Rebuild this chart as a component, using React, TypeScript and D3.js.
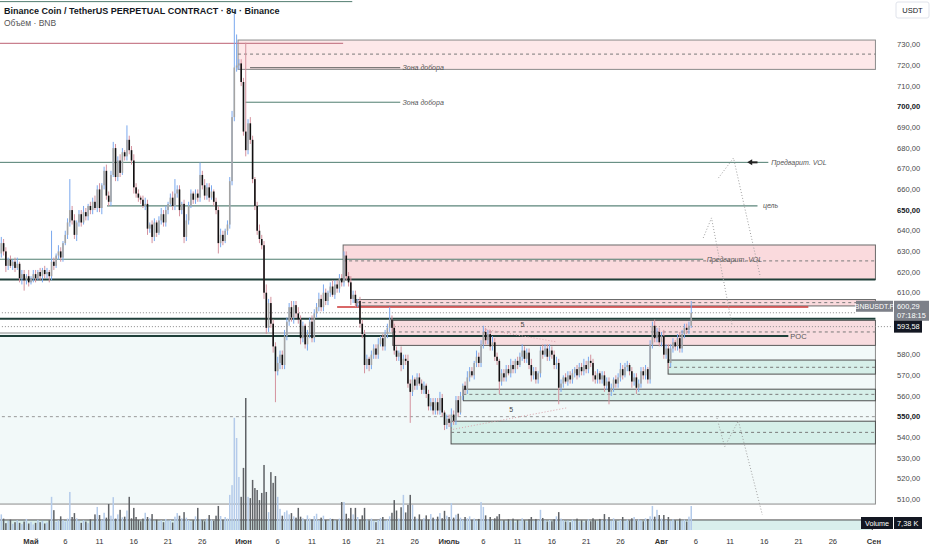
import * as d3 from "d3";

const FONT = "'Liberation Sans', Arial, sans-serif";
const W = 932;
const H = 550;
const PLOT_R = 893;
const PANE_B = 530;

// 8h candles, first one opens Apr 26 16:00
const firstCandle = new Date(2024, 3, 26, 16);
const firstOpen = 629;
const closes = [
  634, 630, 623, 626, 623, 625, 622, 624, 617, 619,
  616, 618, 615, 617, 619, 617, 620, 618, 621, 619,
  620, 618, 625, 623, 628, 630, 627, 634, 638, 644,
  650, 645, 638, 644, 648, 644, 649, 647, 652, 650,
  654, 651, 660, 651, 662, 669, 657, 654, 667, 680,
  666, 674, 668, 678, 676, 684, 679, 674, 661, 658,
  656, 655, 652, 653, 641, 643, 637, 644, 639, 645,
  648, 644, 650, 653, 656, 652, 658, 660, 650, 653,
  637, 645, 652, 658, 655, 658, 656, 667, 662, 657,
  661, 656, 659, 654, 650, 634, 638, 635, 640, 643,
  664, 695, 719, 720, 721, 712, 688, 679, 692, 684,
  665, 652, 640, 636, 633, 610, 593, 605, 595, 584,
  572, 576, 580, 575, 589, 596, 603, 598, 604, 600,
  597, 588, 594, 585, 590, 596, 588, 600, 603, 607,
  603, 610, 606, 610, 613, 609, 614, 612, 617, 615,
  628, 618, 615, 607, 609, 605, 606, 595, 590, 575,
  578, 575, 580, 583, 580, 585, 588, 584, 590, 593,
  597, 593, 582, 579, 581, 575, 578, 577, 566, 562,
  568, 565, 569, 566, 563, 565, 561, 555, 557, 553,
  557, 553, 559, 552, 546, 549, 547, 551, 548, 558,
  552, 560, 565, 563, 569, 572, 570, 576, 579, 576,
  585, 591, 587, 590, 584, 586, 579, 577, 567, 571,
  569, 573, 571, 575, 573, 577, 575, 579, 582, 578,
  581, 575, 570, 572, 568, 571, 582, 580, 583, 579,
  582, 580, 575, 576, 564, 566, 569, 567, 570, 568,
  571, 573, 570, 574, 572, 575, 573, 577, 576, 570,
  568, 571, 568, 570, 565, 567, 562, 564, 568, 566,
  569, 573, 570, 574, 575, 572, 567, 569, 564, 566,
  572, 570, 573, 568, 585, 594, 588, 591, 586, 589,
  580, 583, 576, 583, 586, 584, 588, 583, 590, 593,
  592, 594, 600.29,
];
const wickUp = [
  3, 2, 2, 1, 2, 1, 2, 3, 1, 2,
  2, 1, 3, 1, 2, 2, 1, 2, 1, 2,
  2, 1, 15, 2, 1, 3, 2, 1, 2, 2,
  15, 2, 3, 1, 2, 2, 3, 2, 1, 2,
  2, 3, 2, 3, 1, 2, 3, 2, 2, 3,
  2, 2, 3, 2, 1, 7, 2, 2, 3, 2,
  2, 1, 2, 3, 2, 1, 2, 2, 1, 2,
  3, 2, 2, 1, 2, 3, 7, 2, 2, 1,
  2, 3, 2, 2, 1, 2, 2, 6, 2, 3,
  2, 2, 3, 1, 2, 2, 3, 2, 1, 2,
  2, 3, 28, 15, 2, 2, 2, 43, 2, 3,
  2, 1, 2, 3, 2, 2, 4, 2, 3, 2,
  2, 3, 2, 2, 3, 2, 2, 3, 2, 2,
  3, 2, 2, 1, 2, 2, 3, 2, 2, 3,
  2, 4, 2, 1, 2, 3, 2, 2, 2, 2,
  2, 2, 2, 3, 2, 2, 1, 2, 2, 2,
  2, 1, 2, 2, 2, 3, 1, 2, 2, 2,
  6, 2, 2, 2, 1, 3, 2, 2, 3, 2,
  2, 1, 2, 2, 2, 2, 1, 2, 2, 2,
  2, 2, 3, 2, 1, 2, 2, 3, 2, 2,
  2, 2, 1, 2, 3, 2, 2, 1, 3, 2,
  2, 3, 2, 2, 2, 3, 2, 2, 1, 2,
  2, 2, 2, 3, 2, 1, 2, 2, 3, 2,
  2, 2, 3, 2, 2, 1, 2, 3, 2, 2,
  3, 2, 2, 3, 2, 2, 1, 2, 2, 2,
  2, 1, 2, 2, 2, 3, 2, 2, 3, 2,
  2, 2, 1, 2, 2, 2, 2, 2, 1, 2,
  2, 3, 2, 2, 2, 1, 2, 2, 2, 2,
  2, 2, 2, 1, 2, 2, 3, 2, 2, 2,
  3, 2, 2, 2, 2, 1, 2, 3, 2, 2,
  2, 2, 5.7,
];
const wickDn = [
  2, 2, 3, 2, 1, 2, 2, 1, 2, 3,
  5, 2, 2, 1, 2, 2, 1, 2, 3, 2,
  2, 3, 2, 2, 1, 2, 2, 2, 1, 2,
  2, 2, 2, 3, 2, 2, 1, 2, 2, 2,
  2, 1, 2, 2, 3, 2, 2, 2, 2, 1,
  2, 2, 2, 1, 2, 2, 2, 2, 3, 2,
  2, 2, 1, 2, 3, 2, 3, 2, 2, 1,
  2, 2, 2, 2, 1, 2, 2, 2, 3, 2,
  3, 2, 2, 1, 2, 2, 2, 2, 2, 2,
  2, 2, 1, 2, 2, 5, 2, 2, 1, 2,
  2, 2, 2, 2, 2, 2, 2, 3, 2, 2,
  2, 2, 2, 2, 2, 3, 3, 2, 2, 3,
  15, 2, 3, 2, 2, 2, 2, 2, 3, 2,
  2, 3, 2, 2, 3, 2, 2, 2, 2, 2,
  2, 2, 2, 2, 2, 1, 2, 2, 2, 2,
  2, 2, 2, 3, 2, 2, 2, 2, 2, 4,
  2, 3, 2, 2, 2, 2, 1, 2, 2, 2,
  2, 2, 2, 2, 2, 3, 2, 2, 2, 15,
  2, 2, 2, 1, 2, 2, 2, 2, 2, 2,
  2, 2, 2, 2, 2.5, 2, 2, 2, 2, 2,
  2, 1, 2, 2, 2, 2, 1, 2, 2, 2,
  2, 2, 2, 2, 2, 2, 2, 2, 6, 2,
  2, 2, 1, 2, 2, 2, 2, 1, 2, 2,
  2, 2, 3, 2, 2, 2, 2, 2, 1, 2,
  2, 2, 2, 2, 8, 2, 2, 1, 2, 2,
  2, 2, 2, 1, 2, 2, 2, 2, 2, 3,
  2, 2, 2, 2, 3, 2, 6, 2, 2, 2,
  2, 2, 2, 1, 2, 2, 3, 2, 3, 2,
  2, 2, 2, 2, 2, 2, 2, 2, 2, 2,
  2, 2, 3, 2, 2, 2, 2, 2, 2, 2,
  2, 2, 1,
];
// volume, thousands of BNB
const volumes = [
  4.8, 3.5, 2.1, 2.8, 3.2, 1.9, 2.4, 3.0, 2.2, 1.8,
  2.6, 3.4, 2.0, 2.5, 1.7, 2.2, 3.1, 2.4, 2.8, 2.0,
  2.3, 3.0, 10.2, 6.1, 2.5, 3.0, 4.2, 3.1, 2.6, 3.5,
  11.7, 4.0, 5.2, 3.6, 2.8, 2.2, 3.0, 2.6, 2.1, 3.3,
  2.7, 4.8, 7.1, 4.6, 3.2, 5.3, 3.8, 8.0, 4.4, 10.1,
  3.5, 4.8, 6.2, 3.9, 4.1, 6.0, 10.2, 3.6, 6.8, 4.0,
  3.1, 2.7, 3.5, 5.3, 4.0, 3.6, 4.9, 2.8, 3.2, 2.6,
  3.0, 2.4, 3.4, 2.9, 3.1, 2.3, 4.1, 5.2, 4.4, 3.6,
  5.5, 3.8, 3.1, 2.6, 3.0, 4.2, 6.8, 3.4, 3.0, 2.7,
  3.5, 4.6, 3.2, 2.8, 4.4, 7.4, 4.3, 3.1, 4.0, 3.5,
  10.8, 13.8, 34.5, 28.3, 16.3, 10.2, 19.1, 40.6, 10.2, 9.8,
  15.4, 12.9, 12.3, 9.2, 11.4, 20.0, 11.7, 5.5, 17.8, 14.5,
  16.6, 10.2, 6.5, 4.4, 5.5, 6.0, 4.8, 5.2, 4.2, 3.8,
  6.8, 4.1, 3.6, 3.0, 4.5, 3.5, 3.2, 4.3, 5.0, 3.0,
  3.8, 4.4, 3.1, 2.8, 3.6, 3.4, 2.9, 3.0, 3.5, 8.6,
  8.6, 5.0, 3.6, 6.8, 4.8, 6.8, 4.0, 3.2, 4.5, 6.8,
  3.3, 2.9, 3.5, 2.7, 2.4, 3.1, 3.7, 4.0, 2.8, 3.2,
  4.2, 5.3, 9.2, 6.0, 3.5, 7.0, 10.8, 5.4, 7.7, 10.8,
  7.7, 4.1, 3.5, 4.8, 3.0, 3.6, 4.5, 3.2, 4.9, 3.8,
  3.4, 4.1, 5.2, 3.6, 5.9, 4.4, 4.0, 8.3, 3.8, 4.7,
  5.0, 3.8, 3.2, 4.0, 3.6, 4.2, 3.1, 3.5, 2.9, 3.4,
  8.6, 7.1, 4.5, 3.3, 4.0, 3.1, 3.6, 4.2, 4.9, 2.8,
  3.0, 2.6, 3.3, 2.9, 3.5, 2.4, 3.1, 2.7, 3.6, 3.0,
  2.6, 3.3, 4.0, 2.8, 3.4, 3.0, 6.2, 3.7, 3.0, 2.6,
  3.1, 2.7, 3.3, 4.2, 5.5, 3.5, 3.0, 2.6, 2.9, 2.4,
  3.2, 2.8, 3.5, 2.6, 3.0, 2.4, 2.9, 3.3, 2.7, 3.6,
  3.0, 2.7, 3.4, 3.1, 4.9, 3.3, 4.0, 2.8, 3.6, 2.9,
  2.6, 3.1, 4.0, 2.7, 3.2, 2.9, 3.6, 4.0, 2.8, 3.3,
  3.0, 2.7, 3.6, 3.4, 4.2, 7.4, 4.1, 6.2, 4.6, 3.5,
  4.6, 3.1, 4.0, 2.8, 3.3, 3.0, 2.7, 3.5, 2.9, 3.2,
  2.6, 4.1, 7.38,
];

// 600, 590 and 500 sit under the price / volume labels
const priceTicks = [730, 720, 710, 700, 690, 680, 670, 660, 650, 640, 630, 620, 610, 580, 570, 560, 550, 540, 530, 520, 510];
const strongTicks = [700, 650, 550];
const dateTicks: [string, string, boolean][] = [
  ["2024-05-01", "Май", true], ["2024-05-06", "6", false], ["2024-05-11", "11", false],
  ["2024-05-16", "16", false], ["2024-05-21", "21", false], ["2024-05-26", "26", false],
  ["2024-06-01", "Июн", true], ["2024-06-06", "6", false], ["2024-06-11", "11", false],
  ["2024-06-16", "16", false], ["2024-06-21", "21", false], ["2024-06-26", "26", false],
  ["2024-07-01", "Июль", true], ["2024-07-06", "6", false], ["2024-07-11", "11", false],
  ["2024-07-16", "16", false], ["2024-07-21", "21", false], ["2024-07-26", "26", false],
  ["2024-08-01", "Авг", true], ["2024-08-06", "6", false], ["2024-08-11", "11", false],
  ["2024-08-16", "16", false], ["2024-08-21", "21", false], ["2024-08-26", "26", false],
  ["2024-09-01", "Сен", true],
];

const LEFT = "2024-04-25T00:00";
const RIGHT = "2024-09-01T05:00";

type Zone = { from: string; to: string; top: number; bottom: number; mid?: number; fill: string; stroke: string };
const zones: Zone[] = [
  { from: LEFT, to: RIGHT, top: 590.5, bottom: 507.7, fill: "#f2f9f9", stroke: "#8c8c8c" },
  { from: LEFT, to: "2024-08-31T18:00", top: 500, bottom: 488, fill: "#d9efec", stroke: "#4a4a4a" },
  { from: "2024-05-31T05:00", to: RIGHT, top: 732.3, bottom: 718.1, mid: 725.5, fill: "#fde8e9", stroke: "#8a8a8a" },
  { from: "2024-06-15T13:00", to: RIGHT, top: 633.1, bottom: 616.4, mid: 625.4, fill: "#fadadd", stroke: "#6a6a6a" },
  { from: "2024-06-17T11:00", to: RIGHT, top: 606.7, bottom: 603.6, mid: 605.2, fill: "#fadadd", stroke: "#6a6a6a" },
  { from: "2024-06-22T19:00", to: RIGHT, top: 596.6, bottom: 584.5, mid: 591.0, fill: "#f8dcdf", stroke: "#5a5a5a" },
  { from: "2024-08-01T23:00", to: RIGHT, top: 577.4, bottom: 570.6, mid: 573.9, fill: "#d6efe9", stroke: "#4f4f4f" },
  { from: "2024-07-03T02:00", to: RIGHT, top: 563.3, bottom: 557.7, mid: 560.8, fill: "#d6efe9", stroke: "#4f4f4f" },
  { from: "2024-07-01T07:00", to: RIGHT, top: 547.8, bottom: 536.8, mid: 542.4, fill: "#d6efe9", stroke: "#4f4f4f" },
];

type Level = { price: number; from: string; to: string; color: string; width: number; dash?: string };
const levels: Level[] = [
  { price: 750.9, from: LEFT, to: "2024-06-16T21:00", color: "#527d71", width: 1 },
  { price: 730.7, from: LEFT, to: "2024-06-15T13:00", color: "#c9808e", width: 1.2 },
  { price: 718.9, from: "2024-06-01T23:00", to: "2024-06-23T21:00", color: "#5a5a5a", width: 1 },
  { price: 702.2, from: "2024-06-01T06:00", to: "2024-06-23T21:00", color: "#4f7d70", width: 1 },
  { price: 673.1, from: LEFT, to: "2024-08-16T14:00", color: "#4f7d70", width: 1 },
  { price: 652.0, from: "2024-05-12T02:00", to: "2024-08-15T00:00", color: "#5b857a", width: 1.2 },
  { price: 626.2, from: LEFT, to: "2024-08-07T02:00", color: "#4f7d70", width: 1 },
  { price: 616.4, from: LEFT, to: RIGHT, color: "#1f3f39", width: 2 },
  { price: 603.1, from: "2024-06-14T16:00", to: "2024-08-22T10:00", color: "#cc3434", width: 1.5 },
  { price: 600.29, from: LEFT, to: "2024-08-29T10:00", color: "#8a8a8a", width: 1, dash: "1,2" },
  { price: 597.4, from: LEFT, to: RIGHT, color: "#1f3f39", width: 2 },
  { price: 593.58, from: LEFT, to: "2024-09-03T20:00", color: "#8a8a8a", width: 1, dash: "1,2" },
  { price: 589.05, from: LEFT, to: "2024-08-19T12:00", color: "#1f3f39", width: 1.8 },
  { price: 550.0, from: LEFT, to: RIGHT, color: "#9a9a9a", width: 1, dash: "3,3" },
];

type Note = { text: string; at: string; price: number; italic: boolean };
const notes: Note[] = [
  { text: "Зона добора", at: "2024-06-24T05:00", price: 718.9, italic: true },
  { text: "Зона добора", at: "2024-06-24T05:00", price: 702.2, italic: true },
  { text: "Предварит. VOL", at: "2024-08-17T00:00", price: 673.1, italic: true },
  { text: "цель", at: "2024-08-15T19:00", price: 652.0, italic: true },
  { text: "Предварит. VOL", at: "2024-08-07T14:00", price: 626.2, italic: true },
  { text: "POC", at: "2024-08-19T19:00", price: 589.05, italic: false },
  { text: "5", at: "2024-07-11T17:00", price: 593.8, italic: false },
  { text: "5", at: "2024-07-10T02:00", price: 552.5, italic: false },
];

const waveLines: [string, number][][] = [
  [["2024-07-06T00:00", 592.4], ["2024-07-16T12:00", 586.3]],
  [["2024-07-01T04:00", 543.6], ["2024-07-18T02:00", 554.2]],
];
const forecastPaths: [string, number][][] = [
  [["2024-08-09T07:00", 665.5], ["2024-08-11T12:00", 675.2], ["2024-08-15T10:00", 617.6]],
  [["2024-08-07T02:00", 636.5], ["2024-08-08T07:00", 646.2], ["2024-08-11T07:00", 594.4]],
  [["2024-08-09T02:00", 549.4], ["2024-08-10T05:00", 535.4], ["2024-08-12T05:00", 548.0], ["2024-08-15T17:00", 502.5]],
];
const arrow = { from: "2024-08-15T00:00", to: "2024-08-13T12:00", price: 673.1 };

export default function App() {
  const x = d3.scaleTime().domain([new Date(2024, 4, 1), new Date(2024, 8, 1)]).range([31, 874]);
  const y = d3.scaleLinear().domain([510, 730]).range([499.3, 44.8]);
  const vy = d3.scaleLinear().domain([0, 40.6]).range([PANE_B, PANE_B - 132]);
  const t = (s: string) => x(new Date(s));

  const candles = closes.map((c, i) => {
    const o = i === 0 ? firstOpen : closes[i - 1];
    return {
      time: d3.timeHour.offset(firstCandle, 8 * i),
      o,
      c,
      h: Math.max(o, c) + wickUp[i],
      l: Math.min(o, c) - wickDn[i],
      v: volumes[i],
    };
  });

  const line = d3
    .line<[string, number]>()
    .x((d) => t(d[0]))
    .y((d) => y(d[1]));

  const lastY = y(600.29);
  const prevY = y(593.58);

  return (
    <svg width={W} height={H} style={{ position: "absolute", left: 0, top: 0, background: "#fff" }} fontFamily={FONT}>
      <defs>
        <clipPath id="plot">
          <rect x={0} y={0} width={PLOT_R} height={PANE_B} />
        </clipPath>
      </defs>
      <g clipPath="url(#plot)">
        {zones.map((z, i) => (
          <g key={"z" + i}>
            <rect
              x={t(z.from)}
              y={y(z.top)}
              width={t(z.to) - t(z.from)}
              height={y(z.bottom) - y(z.top)}
              fill={z.fill}
              stroke={z.stroke}
              strokeWidth={1}
            />
            {z.mid !== undefined && (
              <line x1={t(z.from)} x2={t(z.to)} y1={y(z.mid)} y2={y(z.mid)} stroke="#7a7a7a" strokeDasharray="3,3" />
            )}
          </g>
        ))}
        {candles.map((d, i) => {
          const cx = x(d.time);
          return (
            <rect
              key={"v" + i}
              x={cx - 0.75}
              y={vy(d.v)}
              width={1.5}
              height={PANE_B - vy(d.v)}
              fill={d.c >= d.o ? "#b4cbea" : "#5f6266"}
            />
          );
        })}
        {levels.map((l, i) => (
          <line
            key={"l" + i}
            x1={t(l.from)}
            x2={t(l.to)}
            y1={y(l.price)}
            y2={y(l.price)}
            stroke={l.color}
            strokeWidth={l.width}
            strokeDasharray={l.dash}
          />
        ))}
        {waveLines.map((w, i) => (
          <path key={"w" + i} d={line(w) ?? ""} fill="none" stroke="#d9a3ab" strokeWidth={1} strokeDasharray="1,2" />
        ))}
        {forecastPaths.map((p, i) => (
          <path key={"f" + i} d={line(p) ?? ""} fill="none" stroke="#a0a0a0" strokeWidth={1} strokeDasharray="1,2" />
        ))}
        <line x1={t(arrow.from)} x2={t(arrow.to) + 4} y1={y(arrow.price)} y2={y(arrow.price)} stroke="#222" strokeWidth={2} />
        <path d={`M${t(arrow.to)},${y(arrow.price)} l5,-3 l0,6 z`} fill="#222" />
        {candles.map((d, i) => {
          const cx = x(d.time);
          const up = d.c >= d.o;
          const top = y(Math.max(d.o, d.c));
          const bot = y(Math.min(d.o, d.c));
          return (
            <g key={"c" + i}>
              <line x1={cx} x2={cx} y1={y(d.h)} y2={y(d.l)} stroke={up ? "#7aa8ee" : "#d4929e"} strokeWidth={1} />
              <rect x={cx - 0.8} y={top} width={1.6} height={Math.max(0.8, bot - top)} fill={up ? "#a4a4a4" : "#111"} />
            </g>
          );
        })}
        {notes.map((n, i) => (
          <text
            key={"n" + i}
            x={t(n.at)}
            y={y(n.price) - (n.text === "5" ? 2 : 0)}
            dy="0.35em"
            fontSize={n.text === "POC" ? 7.5 : 7}
            fontStyle={n.italic ? "italic" : "normal"}
            fill={n.text === "5" ? "#444" : "#555"}
            textAnchor={n.text === "5" ? "middle" : "start"}
          >
            {n.text}
          </text>
        ))}
      </g>

      <text x={4} y={14} fontSize={9} fontWeight="bold" fill="#131722">
        Binance Coin / TetherUS PERPETUAL CONTRACT · 8ч · Binance
      </text>
      <text x={4} y={26} fontSize={8.5} fill="#555">
        Объём · BNB
      </text>

      {priceTicks.map((p) => (
        <text
          key={"p" + p}
          x={897}
          y={y(p)}
          dy="0.35em"
          fontSize={7.6}
          fontWeight={strongTicks.includes(p) ? "bold" : "normal"}
          fill={strongTicks.includes(p) ? "#131722" : "#4a4a4a"}
        >
          {d3.format(".2f")(p).replace(".", ",")}
        </text>
      ))}

      <rect x={896} y={2} width={33} height={16} rx={2} fill="#fff" stroke="#e0e3eb" />
      <text x={912.5} y={10} dy="0.35em" textAnchor="middle" fontSize={7.5} fill="#131722">
        USDT
      </text>

      <rect x={856} y={lastY - 12} width={37} height={11} fill="#7d8089" />
      <text x={874.5} y={lastY - 6.5} dy="0.35em" textAnchor="middle" fontSize={7} fill="#fff">
        BNBUSDT.P
      </text>
      <rect x={894} y={lastY - 12} width={35} height={20} fill="#7d8089" />
      <text x={897} y={lastY - 6.5} dy="0.35em" fontSize={7.4} fill="#fff">
        600,29
      </text>
      <text x={897} y={lastY + 2.5} dy="0.35em" fontSize={7.4} fill="#fff">
        07:18:15
      </text>
      <rect x={894} y={prevY - 6} width={28} height={12} fill="#131722" />
      <text x={897} y={prevY} dy="0.35em" fontSize={7.4} fill="#fff">
        593,58
      </text>

      <rect x={861} y={vy(0) - 13} width={32} height={12} fill="#131722" />
      <text x={877} y={vy(0) - 7} dy="0.35em" textAnchor="middle" fontSize={7.2} fill="#fff">
        Volume
      </text>
      <rect x={894} y={vy(0) - 13} width={28} height={12} fill="#131722" />
      <text x={897} y={vy(0) - 7} dy="0.35em" fontSize={7.4} fill="#fff">
        7,38 K
      </text>

      {dateTicks.map(([d, label, strong]) => (
        <text
          key={"d" + d}
          x={x(new Date(d + "T00:00"))}
          y={541}
          dy="0.35em"
          textAnchor="middle"
          fontSize={7.6}
          fontWeight={strong ? "bold" : "normal"}
          fill="#333"
        >
          {label}
        </text>
      ))}
    </svg>
  );
}
